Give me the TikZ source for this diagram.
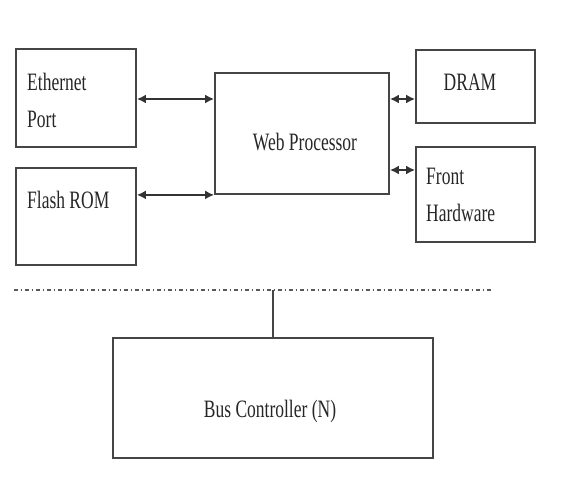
\documentclass[tikz,border=0pt]{standalone}
\usepackage{fontspec}
\usepackage{tikz}
\usepackage{xcolor}
\usetikzlibrary{arrows.meta}
\newfontfamily\labelfont[FakeStretch=0.7]{Liberation Serif}
\definecolor{boxgray}{HTML}{454545}
\tikzset{
  box/.style={draw=boxgray,line width=1.8pt,inner sep=0pt},
  txt/.style={inner sep=0pt,align=left,text=black!85,font={\labelfont\fontsize{25}{37}\selectfont}},
  link/.style={{Latex[length=9pt,width=9pt]}-{Latex[length=9pt,width=9pt]},line width=1.8pt,draw=black!80}
}
\begin{document}
\begin{tikzpicture}[x=1pt,y=-1pt]
        \useasboundingbox (0,0) rectangle (566,491);
        \node[box,minimum width=120pt,minimum height=98pt] (eth) at (76,98) {};
        \node[box,minimum width=120pt,minimum height=97pt] (flash) at (76,216.5) {};
        \node[box,minimum width=174pt,minimum height=121pt] (web) at (302,133.5) {};
        \node[box,minimum width=119pt,minimum height=73pt] (dram) at (475.5,86.5) {};
        \node[box,minimum width=119pt,minimum height=95pt] (front) at (475.5,194.5) {};
        \node[box,minimum width=320pt,minimum height=120pt] (bus) at (273,398) {};
        \node[txt,anchor=north west] (ethtxt) at (27,73) {Ethernet\\Port};
        \node[txt,anchor=base west] (flashtxt) at (27,208) {Flash ROM};
        \node[txt,anchor=base] (webtxt) at (305,150) {Web Processor};
        \node[txt,anchor=base] (dramtxt) at (470,90) {DRAM};
        \node[txt,anchor=north west] (fronttxt) at (426,168) {Front\\Hardware};
        \node[txt,anchor=base] (bustxt) at (270,417) {Bus Controller (N)};
        \draw[link] (eth.east |- 0,99) -- (web.west |- 0,99);
        \draw[link] (flash.east |- web.south) -- (web.south west);
        \draw[link] (web.east |- 0,99) -- (dram.west |- 0,99);
        \draw[link] (web.east |- 0,170) -- (front.west |- 0,170);
        \coordinate (lineL) at (14,290);
        \coordinate (lineR) at (493,290);
        \draw[black!65,line width=1.6pt,dash pattern=on 4pt off 2.5pt on 1.5pt off 3pt] (lineL) -- (lineR);
        \draw[boxgray,line width=1.8pt] (bus.north) -- (bus.north |- lineL);
    \end{tikzpicture}
\end{document}
